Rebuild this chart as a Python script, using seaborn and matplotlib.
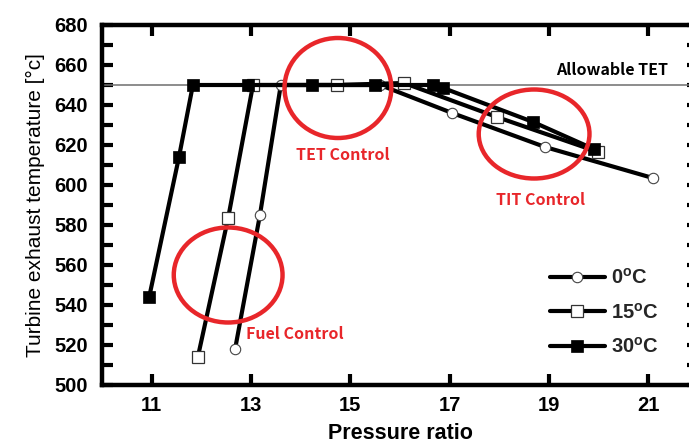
import matplotlib
matplotlib.use("Agg")
import matplotlib.pyplot as plt
from matplotlib.patches import Ellipse
from matplotlib.ticker import MultipleLocator
import pandas as pd
import seaborn as sns

# Turbine exhaust temperature vs. compressor pressure ratio at three ambient temperatures
pr_0c = [12.68, 13.18, 13.6, 15.6, 17.05, 18.92, 21.09]
tet_0c = [518, 585, 650, 650, 636, 619, 603.5]

pr_15c = [11.93, 12.54, 13.04, 14.73, 16.08, 17.95, 19.99]
tet_15c = [514, 583.5, 650, 650, 651, 634, 616.5]

pr_30c = [10.95, 11.55, 11.83, 12.94, 14.23, 15.5, 16.66, 16.87, 18.68, 19.9]
tet_30c = [544, 614, 650, 650, 650, 650, 650, 648.5, 631.5, 618]

series_labels = ["0$^{\\mathbf{o}}$C", "15$^{\\mathbf{o}}$C", "30$^{\\mathbf{o}}$C"]
allowable_tet = 650
x_ticks = [11, 13, 15, 17, 19, 21]
y_ticks = [500, 520, 540, 560, 580, 600, 620, 640, 660, 680]

sns.set_theme(style="white")
plt.rcParams["font.family"] = ["Liberation Sans", "DejaVu Sans"]
plt.rcParams["mathtext.fontset"] = "custom"
plt.rcParams["mathtext.rm"] = "Liberation Sans"
plt.rcParams["mathtext.bf"] = "Liberation Sans:bold"

fig = plt.figure(figsize=(6.89, 4.43), dpi=100)
ax = fig.add_axes([102 / 689, 58 / 443, 596 / 689, 360 / 443])

ax.axhline(allowable_tet, color="#6e6e6e", lw=1.1, zorder=1)

df0 = pd.DataFrame({"pr": pr_0c, "tet": tet_0c})
df15 = pd.DataFrame({"pr": pr_15c, "tet": tet_15c})
df30 = pd.DataFrame({"pr": pr_30c, "tet": tet_30c})

sns.lineplot(data=df0, x="pr", y="tet", sort=False, estimator=None, ax=ax,
             color="black", lw=3.0, marker="o", markersize=7.5,
             markerfacecolor="white", markeredgecolor="#444444",
             markeredgewidth=0.8, label=series_labels[0], zorder=3)
sns.lineplot(data=df15, x="pr", y="tet", sort=False, estimator=None, ax=ax,
             color="black", lw=3.0, marker="s", markersize=8.5,
             markerfacecolor="white", markeredgecolor="#333333",
             markeredgewidth=0.9, label=series_labels[1], zorder=4)
sns.lineplot(data=df30, x="pr", y="tet", sort=False, estimator=None, ax=ax,
             color="black", lw=3.0, marker="s", markersize=8.5,
             markerfacecolor="black", markeredgecolor="black",
             markeredgewidth=0.5, label=series_labels[2], zorder=5)

ax.set_xlim(10, 22)
ax.set_ylim(500, 680)
ax.set_xticks(x_ticks)
ax.set_yticks(y_ticks)
ax.yaxis.set_minor_locator(MultipleLocator(10))

for side in ["left", "right", "top", "bottom"]:
    ax.spines[side].set_visible(True)
    ax.spines[side].set_color("black")
    ax.spines[side].set_linewidth(3.2)

ax.tick_params(which="both", direction="in", length=8, width=3.0,
               color="black", top=True, right=True, left=True, bottom=True)
ax.tick_params(axis="y", which="major", pad=10)
ax.tick_params(axis="x", which="major", pad=8)
for lab in ax.get_xticklabels() + ax.get_yticklabels():
    lab.set_fontsize(14.5)
    lab.set_fontweight("bold")
    lab.set_color("black")

ax.set_xlabel("Pressure ratio", fontsize=15.5, fontweight="bold", color="black", labelpad=6)
ax.set_ylabel("Turbine exhaust temperature [°c]", fontsize=15, color="black", labelpad=7)

# Control regions
red = "#e8262a"
for cx, cy, w, h in [(14.75, 648.5, 2.15, 50), (12.54, 555, 2.19, 47.5), (18.70, 625.5, 2.23, 44.5)]:
    ax.add_patch(Ellipse((cx, cy), w, h, fill=False, edgecolor=red, lw=3.2, zorder=6))

note_font = ["Noto Sans CJK KR", "DejaVu Sans"]
ax.text(14.85, 615, "TET Control", color=red, fontsize=11.5, family=note_font,
        fontweight="bold", ha="center", va="center", zorder=7)
ax.text(13.89, 525.5, "Fuel Control", color=red, fontsize=11.5, family=note_font,
        fontweight="bold", ha="center", va="center", zorder=7)
ax.text(18.84, 592.5, "TIT Control", color=red, fontsize=11.5, family=note_font,
        fontweight="bold", ha="center", va="center", zorder=7)
ax.text(21.4, 657.5, "Allowable TET", color="black", fontsize=11.5, family=note_font,
        fontweight="bold", ha="right", va="center", zorder=7)

leg = ax.legend(loc="upper left", bbox_to_anchor=(0.752, 0.325), frameon=False,
                borderpad=0, borderaxespad=0, handlelength=2.7, handletextpad=0.3,
                labelspacing=0.72, prop={"family": "Liberation Sans", "weight": "bold", "size": 14.5})

fig.savefig("out.png", dpi=100)
